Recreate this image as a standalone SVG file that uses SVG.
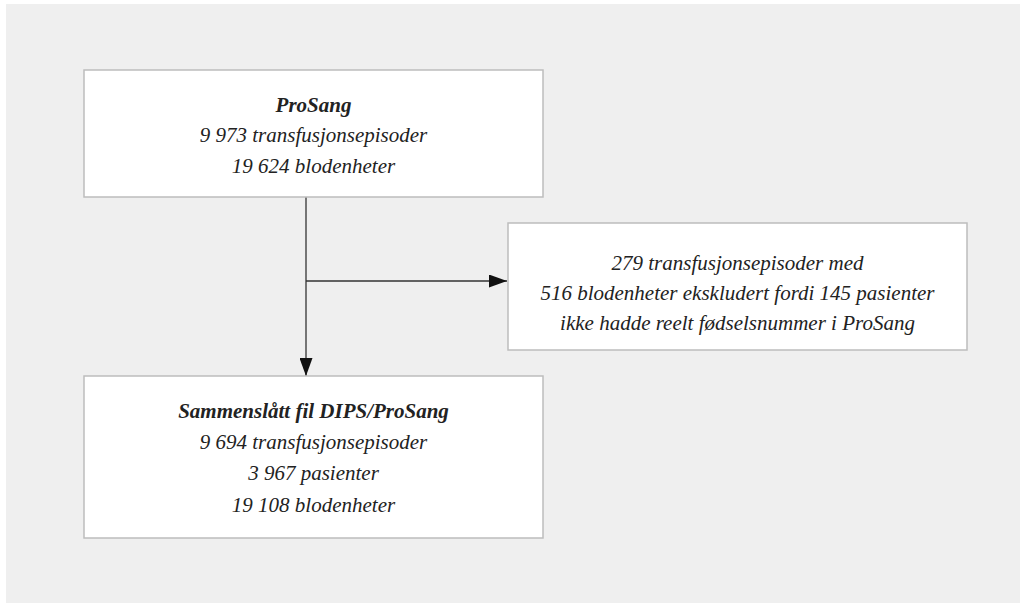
<svg xmlns="http://www.w3.org/2000/svg" width="1021" height="603" viewBox="0 0 1021 603">
<style>
.box{fill:#fff;stroke:#bdbdbd;stroke-width:1.5}
.t{font-family:"Liberation Serif","DejaVu Serif",serif;font-style:italic;font-size:21px;fill:#222;text-anchor:middle}
.b{font-weight:bold}
.ln{stroke:#333;stroke-width:1.3;fill:none}
</style>
<defs>
<marker id="ah" markerWidth="18" markerHeight="13" refX="18" refY="6.5" orient="auto" markerUnits="userSpaceOnUse">
<path d="M0,0 L18,6.5 L0,13 Z" fill="#111"/>
</marker>
</defs>
<rect x="0" y="0" width="1021" height="603" fill="#fff"/>
<rect x="6" y="4" width="1014" height="599" fill="#efefef"/>
<g id="connectors">
<line class="ln" x1="306" y1="197" x2="306" y2="376" marker-end="url(#ah)"/>
<line class="ln" x1="306" y1="281" x2="507" y2="281" marker-end="url(#ah)"/>
</g>
<g id="prosang">
<rect class="box" x="84" y="70" width="459" height="127"/>
<text class="t b" x="313.5" y="112">ProSang</text>
<text class="t" x="313.5" y="142">9 973 transfusjonsepisoder</text>
<text class="t" x="313.5" y="173">19 624 blodenheter</text>
</g>
<g id="excluded">
<rect class="box" x="508" y="223" width="459" height="127"/>
<text class="t" x="737.5" y="270">279 transfusjonsepisoder med</text>
<text class="t" x="737.5" y="300">516 blodenheter ekskludert fordi 145 pasienter</text>
<text class="t" x="737.5" y="330">ikke hadde reelt fødselsnummer i ProSang</text>
</g>
<g id="merged">
<rect class="box" x="84" y="376" width="459" height="162"/>
<text class="t b" x="313.5" y="418">Sammenslått fil DIPS/ProSang</text>
<text class="t" x="313.5" y="449">9 694 transfusjonsepisoder</text>
<text class="t" x="313.5" y="480">3 967 pasienter</text>
<text class="t" x="313.5" y="512">19 108 blodenheter</text>
</g>
</svg>
